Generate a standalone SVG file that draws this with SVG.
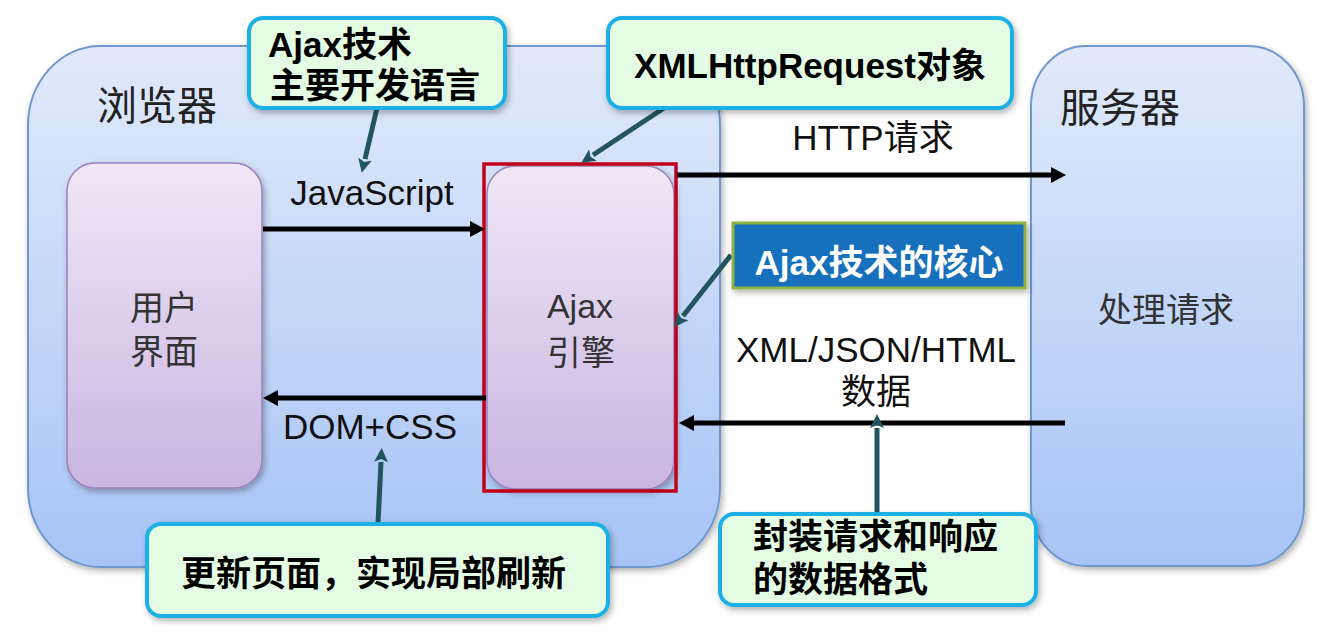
<svg xmlns="http://www.w3.org/2000/svg" width="1326" height="636" viewBox="0 0 1326 636">
<defs>
  <linearGradient id="gBlue" x1="0" y1="0" x2="0" y2="1">
    <stop offset="0" stop-color="#e1eafb"/>
    <stop offset="1" stop-color="#a7c4f6"/>
  </linearGradient>
  <linearGradient id="gPurple" x1="0" y1="0" x2="0" y2="1">
    <stop offset="0" stop-color="#efe7f6"/>
    <stop offset="1" stop-color="#c9b5e1"/>
  </linearGradient>
  <filter id="shadow" x="-10%" y="-10%" width="125%" height="130%">
    <feDropShadow dx="2" dy="3" stdDeviation="3" flood-color="#000" flood-opacity="0.3"/>
  </filter>
  <marker id="arrowBlack" markerUnits="userSpaceOnUse" markerWidth="16" markerHeight="18" refX="0" refY="9" orient="auto">
    <path d="M0,1 L15,9 L0,17 z" fill="#000"/>
  </marker>
  <marker id="arrowTeal" markerUnits="userSpaceOnUse" markerWidth="16" markerHeight="16" refX="0" refY="8" orient="auto">
    <path d="M0,1 L14,8 L0,15 L3,8 z" fill="#22555f"/>
  </marker>
  <style>
    .t { font-family: "Liberation Sans", "Noto Sans CJK SC", sans-serif; }
    .lbl { font-size: 35px; fill: #111; }
    .node { font-size: 34px; fill: #333; }
    .title { font-size: 40px; fill: #222; }
    .bold { font-size: 35px; font-weight: bold; fill: #000; }
    .callout { fill: #e4fbe4; stroke: #1cb0e6; stroke-width: 4; }
    .edge { stroke: #000; stroke-width: 5; fill: none; }
    .ptr { stroke: #22555f; stroke-width: 5; fill: none; }
  </style>
</defs>
<rect x="0" y="0" width="1326" height="636" fill="#fff"/>

<g id="browser">
  <rect x="28" y="46" width="692" height="521" rx="72" ry="80" fill="url(#gBlue)" stroke="#7098cf" stroke-width="2" filter="url(#shadow)"/>
  <text class="t title" x="97" y="120">浏览器</text>
</g>

<g id="server">
  <rect x="1031" y="46" width="273" height="520" rx="55" ry="60" fill="url(#gBlue)" stroke="#7098cf" stroke-width="2" filter="url(#shadow)"/>
  <text class="t title" x="1060" y="122">服务器</text>
  <text class="t node" x="1166" y="322" text-anchor="middle" font-size="35">处理请求</text>
</g>

<g id="user-ui">
  <rect x="67" y="163" width="195" height="325" rx="28" fill="url(#gPurple)" stroke="#9a80b8" stroke-width="1.5" filter="url(#shadow)"/>
  <text class="t node" x="164" y="320" text-anchor="middle">用户</text>
  <text class="t node" x="164" y="364" text-anchor="middle">界面</text>
</g>

<g id="ajax-engine">
  <rect x="487" y="166" width="187" height="323" rx="28" fill="url(#gPurple)" stroke="#9a80b8" stroke-width="1.5" filter="url(#shadow)"/>
  <rect x="484" y="164" width="192" height="327" fill="none" stroke="#c00018" stroke-width="3.5"/>
  <text class="t node" x="580" y="318" text-anchor="middle">Ajax</text>
  <text class="t node" x="581" y="365" text-anchor="middle">引擎</text>
</g>

<g id="connectors">
  <line class="edge" x1="263" y1="229" x2="470" y2="229" marker-end="url(#arrowBlack)"/>
  <line class="edge" x1="486" y1="398" x2="278" y2="398" marker-end="url(#arrowBlack)"/>
  <line class="edge" x1="677" y1="175" x2="1051" y2="175" marker-end="url(#arrowBlack)"/>
  <line class="edge" x1="1065" y1="423" x2="694" y2="423" marker-end="url(#arrowBlack)"/>
  <text class="t lbl" x="372" y="205" text-anchor="middle" font-size="36">JavaScript</text>
  <text class="t lbl" x="370" y="439" text-anchor="middle">DOM+CSS</text>
  <text class="t lbl" x="873" y="150" text-anchor="middle" font-size="34">HTTP请求</text>
  <text class="t lbl" x="876" y="362" text-anchor="middle" font-size="36">XML/JSON/HTML</text>
  <text class="t lbl" x="876" y="404" text-anchor="middle">数据</text>

  <line class="ptr" x1="377" y1="108" x2="365" y2="159" marker-end="url(#arrowTeal)"/>
  <line class="ptr" x1="664" y1="108" x2="593" y2="155" marker-end="url(#arrowTeal)"/>
  <line class="ptr" x1="731" y1="255" x2="683" y2="316" marker-end="url(#arrowTeal)"/>
  <line class="ptr" x1="378" y1="523" x2="381" y2="462" marker-end="url(#arrowTeal)"/>
  <line class="ptr" x1="877" y1="513" x2="877" y2="428" marker-end="url(#arrowTeal)"/>
</g>

<g id="callout-lang">
  <rect class="callout" x="249" y="18" width="256" height="90" rx="14" filter="url(#shadow)"/>
  <text class="t bold" x="268" y="57">Ajax技术</text>
  <text class="t bold" x="270" y="98">主要开发语言</text>
</g>

<g id="callout-xhr">
  <rect class="callout" x="608" y="18" width="404" height="90" rx="14" filter="url(#shadow)"/>
  <text class="t bold" x="810" y="78" text-anchor="middle">XMLHttpRequest对象</text>
</g>

<g id="callout-core">
  <rect x="733" y="223" width="292" height="65" fill="#1570bc" stroke="#8fb343" stroke-width="3" filter="url(#shadow)"/>
  <text class="t bold" x="879" y="275" text-anchor="middle" fill="#fff" style="fill:#fff">Ajax技术的核心</text>
</g>

<g id="callout-refresh">
  <rect class="callout" x="147" y="524" width="461" height="92" rx="14" filter="url(#shadow)"/>
  <text class="t bold" x="181" y="586">更新页面，实现局部刷新</text>
</g>

<g id="callout-format">
  <rect class="callout" x="720" y="514" width="316" height="91" rx="14" filter="url(#shadow)"/>
  <text class="t bold" x="753" y="549">封装请求和响应</text>
  <text class="t bold" x="753" y="592">的数据格式</text>
</g>
</svg>
